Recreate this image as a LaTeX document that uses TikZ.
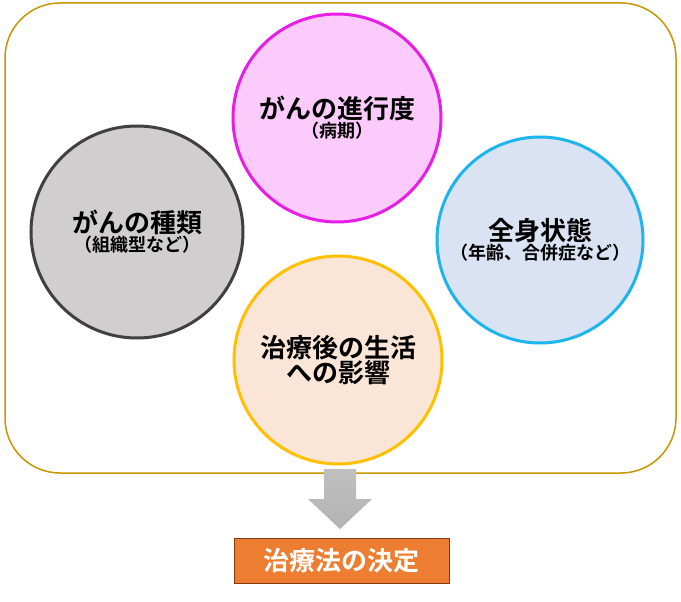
\documentclass[tikz,border=0pt]{standalone}
\usepackage{fontspec}
\setmainfont{Noto Sans CJK JP}[BoldFont={* Bold}]
\begin{document}
\begin{tikzpicture}[x=1pt,y=-1pt,
  circ/.style={circle,line width=3pt,minimum size=#1,inner sep=0pt,align=center,font=\bfseries}]
\useasboundingbox (0,0) rectangle (681,602);
\draw[draw={rgb,255:red,200;green,150;blue,0},line width=1.5pt,rounded corners=55pt,fill=white] (5,3) rectangle (676,473);
\node[circ=208pt,draw={rgb,255:red,230;green,30;blue,230},fill={rgb,255:red,251;green,203;blue,251}] (pink) at (337,118)
  {\fontsize{26}{32}\selectfont がんの進行度\\\fontsize{18}{22}\selectfont （病期）};
\node[circ=212pt,draw={rgb,255:red,64;green,64;blue,64},fill={rgb,255:red,208;green,206;blue,206}] (gray) at (137,232)
  {\fontsize{26}{32}\selectfont がんの種類\\\fontsize{18}{22}\selectfont （組織型など）};
\node[circ=206pt,draw={rgb,255:red,30;green,180;blue,236},fill={rgb,255:red,218;green,227;blue,243}] (blue) at (540,240)
  {\fontsize{26}{32}\selectfont 全身状態\\\fontsize{18}{22}\selectfont （年齢、合併症など）};
\node[circ=208pt,draw={rgb,255:red,255;green,192;blue,0},fill={rgb,255:red,251;green,229;blue,214}] (peach) at (338,360)
  {\fontsize{26}{36}\selectfont 治療後の生活\\\fontsize{26}{36}\selectfont への影響};
\shade[top color=gray!50,bottom color=gray!140!black] (324,469) -- (356,469) -- (356,499) -- (372,499) -- (340,529) -- (308,499) -- (324,499) -- cycle;
\node[draw={rgb,255:red,132;green,60;blue,12},line width=1pt,fill={rgb,255:red,237;green,125;blue,49},text=white,
  minimum width=215pt,minimum height=45pt,font=\fontsize{26}{30}\selectfont\bfseries] (res) at (341.5,560.5) {治療法の決定};
\end{tikzpicture}
\end{document}
